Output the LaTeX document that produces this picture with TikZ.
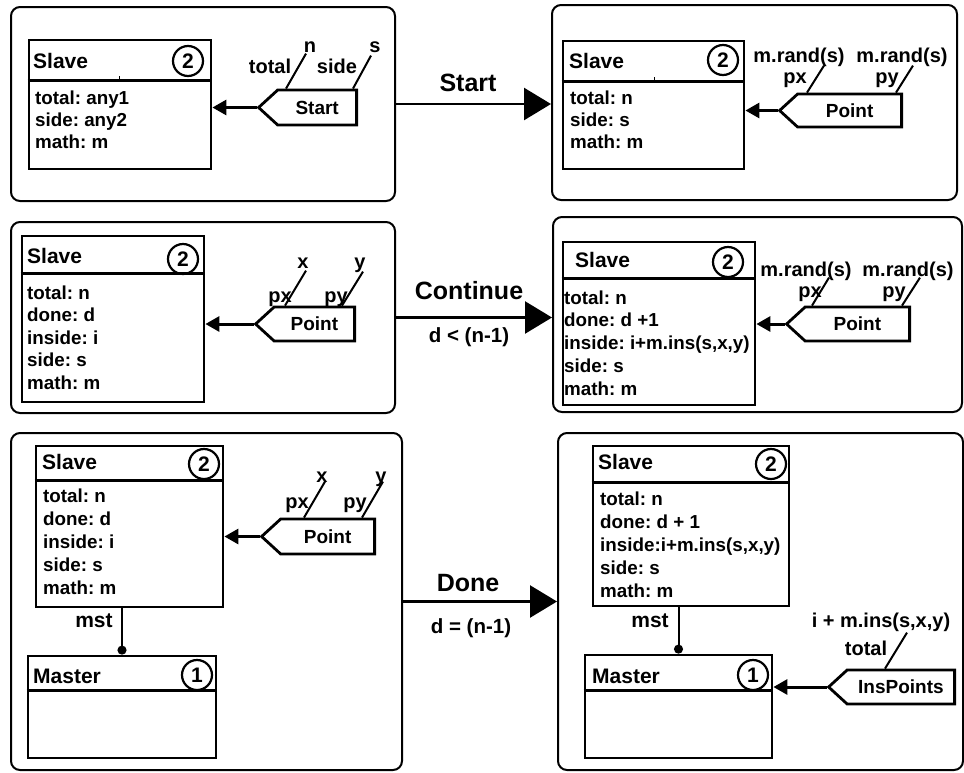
\documentclass[tikz,border=0pt]{standalone}
\usepackage{fontspec}
\setmainfont{Liberation Sans}
\usetikzlibrary{arrows.meta,shapes.symbols}
\frenchspacing

\begin{document}
\begin{tikzpicture}[x=1pt,y=-1pt,
    panel/.style={draw,line width=2pt,rounded corners=9pt,inner sep=0pt},
    classbox/.style={draw,line width=2.8pt,inner sep=0pt},
    idcircle/.style={draw,circle,line width=2.2pt,minimum size=30pt,inner sep=0pt,font=\fontsize{21}{21}\selectfont\bfseries},
    title/.style={anchor=base west,inner sep=0pt,font=\fontsize{21}{21}\selectfont\bfseries},
    attr/.style={anchor=base west,inner sep=0pt,font=\fontsize{18.8}{18.8}\selectfont\bfseries},
    msg/.style={draw,signal,signal to=west,signal pointer angle=85,line width=2.8pt,anchor=east,inner sep=0pt,font=\fontsize{19}{19}\selectfont\bfseries},
    param/.style={anchor=base,inner sep=0pt,font=\fontsize{20}{20}\selectfont\bfseries},
    paramline/.style={line width=2pt},
    send/.style={line width=3pt,-{Triangle[length=14pt,width=15pt]}},
    trans/.style={line width=2.5pt,-{Triangle[length=27pt,width=32pt]}},
    translabel/.style={anchor=base,inner sep=0pt,font=\fontsize{25}{25}\selectfont\bfseries},
    guard/.style={anchor=base,inner sep=0pt,font=\fontsize{20.5}{20.5}\selectfont\bfseries},
    link/.style={line width=2pt,-{Circle[length=9pt]}}]
        \useasboundingbox (0,0) rectangle (964,772);

        % Panels
        \node[panel,minimum width=384pt,minimum height=194pt] (panelA) at (203,104) {};
        \node[panel,minimum width=405pt,minimum height=195pt] (panelB) at (754.5,102.5) {};
        \node[panel,minimum width=384pt,minimum height=191pt] (panelC) at (203,317.5) {};
        \node[panel,minimum width=409pt,minimum height=195pt] (panelD) at (757.5,314.5) {};
        \node[panel,minimum width=391pt,minimum height=337pt] (panelE) at (206.5,601.5) {};
        \node[panel,minimum width=405pt,minimum height=337pt] (panelF) at (760.5,601.5) {};

        % Top left: Slave receives Start
        \node[classbox,minimum width=182pt,minimum height=129pt] (slaveA) at (120,104.5) {};
        \draw[line width=2.8pt] ([yshift=-42pt]slaveA.north west) -- ([yshift=-42pt]slaveA.north east);
        \draw[line width=1pt] (119,76) -- (119,79);
        \node[title] (slaveAname) at (33,68) {Slave};
        \node[idcircle] (slaveAid) at (188,61) {2};
        \foreach \t [count=\i from 0] in {total: any1, side: any2, math: m}{
            \node[attr] (attrA\i) at (35,104+22*\i) {\t};
        }
        \node[msg,minimum width=98pt,minimum height=35pt] (startMsg) at (358,107.5) {Start};
        \draw[send] (startMsg.west) -- (startMsg.west -| slaveA.east);
        \draw[paramline] ([xshift=-72pt]startMsg.north east) -- ++(20,-35) coordinate (startTotal);
        \draw[paramline] ([xshift=-5pt]startMsg.north east) -- ++(18,-33) coordinate (startSide);
        \node[param] (pTotalA) at (270,73) {total};
        \node[param] (vTotalA) at (310,52) {n};
        \node[param] (pSideA) at (337,73) {side};
        \node[param] (vSideA) at (375,52) {s};

        % Top right: Slave after Start
        \node[classbox,minimum width=181pt,minimum height=128pt] (slaveB) at (653.5,105) {};
        \draw[line width=2.8pt] ([yshift=-42pt]slaveB.north west) -- ([yshift=-42pt]slaveB.north east);
        \draw[line width=1pt] (654,77) -- (654,80);
        \node[title] (slaveBname) at (569,68) {Slave};
        \node[idcircle] (slaveBid) at (723,60) {2};
        \foreach \t [count=\i from 0] in {total: n, side: s, math: m}{
            \node[attr] (attrB\i) at (570,104+22*\i) {\t};
        }
        \node[msg,minimum width=122pt,minimum height=33pt] (pointB) at (903,110.5) {Point};
        \draw[send] (pointB.west) -- (pointB.west -| slaveB.east);
        \draw[paramline] ([xshift=-96pt]pointB.north east) -- ++(17,-27) coordinate (pxB);
        \draw[paramline] ([xshift=-7pt]pointB.north east) -- ++(17,-27) coordinate (pyB);
        \node[param] (vxB) at (799,62) {m.rand(s)};
        \node[param] (vyB) at (902,62) {m.rand(s)};
        \node[param] (pxBlabel) at (795,83) {px};
        \node[param] (pyBlabel) at (887,83) {py};

        % Middle left: Slave receives Point
        \node[classbox,minimum width=182pt,minimum height=166pt] (slaveC) at (113,319) {};
        \draw[line width=2.8pt] ([yshift=-39pt]slaveC.north west) -- ([yshift=-39pt]slaveC.north east);
        \node[title] (slaveCname) at (27,263) {Slave};
        \node[idcircle] (slaveCid) at (183,259) {2};
        \foreach \t [count=\i from 0] in {total: n, done: d, inside: i, side: s, math: m}{
            \node[attr] (attrC\i) at (27,299+22.5*\i) {\t};
        }
        \node[msg,minimum width=99pt,minimum height=34pt] (pointC) at (356,324) {Point};
        \draw[send] (pointC.west) -- (pointC.west -| slaveC.east);
        \draw[paramline] ([xshift=-71pt]pointC.north east) -- ++(21,-35) coordinate (pxC);
        \draw[paramline] ([xshift=-14pt]pointC.north east) -- ++(21,-34) coordinate (pyC);
        \node[param] (pxClabel) at (280,302) {px};
        \node[param] (vxC) at (303,268) {x};
        \node[param] (pyClabel) at (336,302) {py};
        \node[param] (vyC) at (360,268) {y};

        % Middle right: Slave after Continue
        \node[classbox,minimum width=192pt,minimum height=163pt] (slaveD) at (659,323.5) {};
        \draw[line width=2.8pt] ([yshift=-38pt]slaveD.north west) -- ([yshift=-38pt]slaveD.north east);
        \node[title] (slaveDname) at (575,267) {Slave};
        \node[idcircle] (slaveDid) at (728,262) {2};
        \foreach \t [count=\i from 0] in {total: n, done: d +1, {inside: i+m.ins(s,x,y)}, side: s, math: m}{
            \node[attr] (attrD\i) at (564,304+22.75*\i) {\t};
        }
        \node[msg,minimum width=123pt,minimum height=34pt] (pointD) at (911,324) {Point};
        \draw[send] (pointD.west) -- (pointD.west -| slaveD.east);
        \draw[paramline] ([xshift=-99pt]pointD.north east) -- ++(17,-28) coordinate (pxD);
        \draw[paramline] ([xshift=-9pt]pointD.north east) -- ++(18,-28) coordinate (pyD);
        \node[param] (vxD) at (806,276) {m.rand(s)};
        \node[param] (vyD) at (908,276) {m.rand(s)};
        \node[param] (pxDlabel) at (810,297) {px};
        \node[param] (pyDlabel) at (894,297) {py};

        % Bottom left: Slave and Master
        \node[classbox,minimum width=187pt,minimum height=161pt] (slaveE) at (129.5,526.5) {};
        \draw[line width=2.8pt] ([yshift=-36pt]slaveE.north west) -- ([yshift=-36pt]slaveE.north east);
        \node[title] (slaveEname) at (42,469) {Slave};
        \node[idcircle] (slaveEid) at (204,464) {2};
        \foreach \t [count=\i from 0] in {total: n, done: d, inside: i, side: s, math: m}{
            \node[attr] (attrE\i) at (43,502+23*\i) {\t};
        }
        \node[msg,minimum width=113pt,minimum height=35pt] (pointE) at (376,536.5) {Point};
        \draw[send] (pointE.west) -- (pointE.west -| slaveE.east);
        \draw[paramline] ([xshift=-72pt]pointE.north east) -- ++(21,-36) coordinate (pxE);
        \draw[paramline] ([xshift=-14pt]pointE.north east) -- ++(21,-36) coordinate (pyE);
        \node[param] (pxElabel) at (297,508) {px};
        \node[param] (vxE) at (322,482) {x};
        \node[param] (pyElabel) at (355,508) {py};
        \node[param] (vyE) at (381,482) {y};
        \node[classbox,minimum width=188pt,minimum height=102pt] (masterE) at (122,707) {};
        \draw[line width=2.8pt] ([yshift=-36pt]masterE.north west) -- ([yshift=-36pt]masterE.north east);
        \node[title] (masterEname) at (33,683) {Master};
        \node[idcircle] (masterEid) at (197,675) {1};
        \draw[link] (slaveE.south -| masterE.north) -- (masterE.north);
        \node[param,font=\fontsize{21}{21}\selectfont\bfseries] (mstE) at (94,627) {mst};

        % Bottom right: Slave sends InsPoints to Master
        \node[classbox,minimum width=196pt,minimum height=160pt] (slaveF) at (691,526) {};
        \draw[line width=2.8pt] ([yshift=-38pt]slaveF.north west) -- ([yshift=-38pt]slaveF.north east);
        \node[title] (slaveFname) at (598,469) {Slave};
        \node[idcircle] (slaveFid) at (771,464) {2};
        \foreach \t [count=\i from 0] in {total: n, done: d + 1, {inside:i+m.ins(s,x,y)}, side: s, math: m}{
            \node[attr] (attrF\i) at (600,505+23*\i) {\t};
        }
        \node[classbox,minimum width=187pt,minimum height=103pt] (masterF) at (678.5,706.5) {};
        \draw[line width=2.8pt] ([yshift=-37pt]masterF.north west) -- ([yshift=-37pt]masterF.north east);
        \node[title] (masterFname) at (592,683) {Master};
        \node[idcircle] (masterFid) at (753,675) {1};
        \draw[link] (slaveF.south -| masterF.north) -- (masterF.north);
        \node[param,font=\fontsize{21}{21}\selectfont\bfseries] (mstF) at (650,627) {mst};
        \node[msg,minimum width=126pt,minimum height=34pt] (insPoints) at (956,687) {InsPoints};
        \draw[send] (insPoints.west) -- (insPoints.west -| masterF.east);
        \draw[paramline] ([xshift=-71pt]insPoints.north east) -- ++(22,-36) coordinate (totalF);
        \node[param] (vTotalF) at (881,627) {i + m.ins(s,x,y)};
        \node[param] (pTotalF) at (866,655) {total};

        % Transitions
        \draw[trans] (panelA.east) -- (panelA.east -| panelB.west);
        \node[translabel] (startLabel) at (468,91) {Start};
        \draw[trans] (panelC.east) -- (panelC.east -| panelD.west);
        \node[translabel] (contLabel) at (469,299) {Continue};
        \node[guard] (contGuard) at (469,342) {d < (n-1)};
        \draw[trans] (panelE.east) -- (panelE.east -| panelF.west);
        \node[translabel] (doneLabel) at (468,591) {Done};
        \node[guard] (doneGuard) at (471,633) {d = (n-1)};

    \end{tikzpicture}
\end{document}
